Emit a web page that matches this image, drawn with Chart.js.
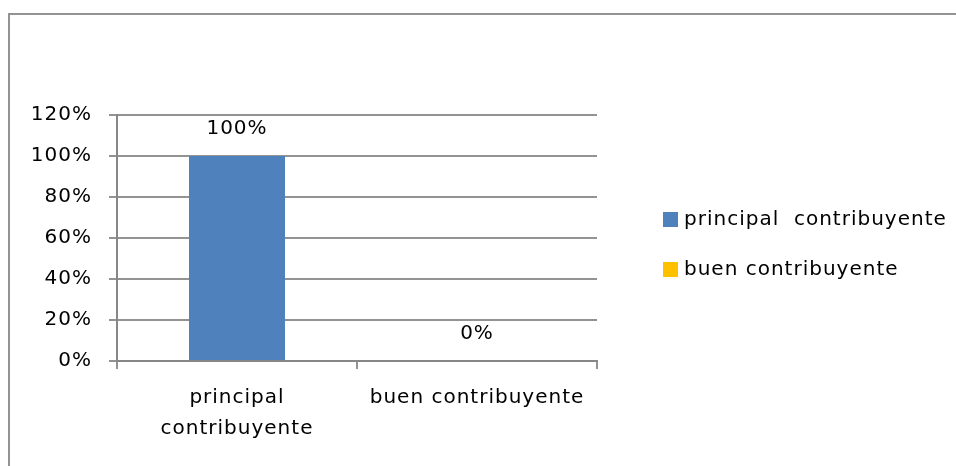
<!DOCTYPE html>
<html>
<head>
<meta charset="utf-8">
<script src="https://cdn.jsdelivr.net/npm/chart.js@4"></script>
<style>
  html, body { margin: 0; padding: 0; background: #fff; }
  #wrap { width: 956px; height: 466px; position: relative; }
</style>
</head>
<body>
<div id="wrap"><canvas id="grafico"></canvas></div>
<script>
// --- Données ---
const categorias = [['principal', 'contribuyente'], 'buen contribuyente'];
const leyenda = ['principal  contribuyente', 'buen contribuyente'];
const valores = [100, 0];
const colores = ['#4F81BD', '#FFC000'];
const ticksY = [0, 20, 40, 60, 80, 100, 120];

const fuente = { family: 'DejaVu Sans', size: 20, lineHeight: 1.55 };
const gris = '#939393';

// Cadre du graphique (style Excel) + espacement des lettres (texte plus large)
const marco = {
    id: 'marco',
    beforeDraw(chart) {
        const ctx = chart.ctx;
        ctx.save();
        ctx.fillStyle = '#fff';
        ctx.fillRect(0, 0, chart.width, chart.height);
        ctx.strokeStyle = '#939393';
        ctx.lineWidth = 2;
        ctx.strokeRect(9, 14, 2000, 2000);
        ctx.restore();
        ctx.letterSpacing = '1px';
    }
};

// Etiquettes de valeurs au-dessus des barres
const etiquetas = {
    id: 'etiquetas',
    afterDatasetsDraw(chart) {
        const ctx = chart.ctx;
        const meta = chart.getDatasetMeta(0);
        ctx.save();
        ctx.font = `${fuente.size}px ${fuente.family}`;
        ctx.fillStyle = '#000';
        ctx.textAlign = 'center';
        ctx.textBaseline = 'middle';
        meta.data.forEach((bar, i) => {
            ctx.fillText(valores[i] + '%', bar.x, bar.y - 27);
        });
        ctx.restore();
    }
};

// Légende à droite
const leyendaDerecha = {
    id: 'leyendaDerecha',
    afterDraw(chart) {
        const ctx = chart.ctx;
        ctx.save();
        ctx.font = `${fuente.size}px ${fuente.family}`;
        ctx.textBaseline = 'middle';
        leyenda.forEach((txt, i) => {
            const y = 212 + i * 50;
            ctx.fillStyle = colores[i];
            ctx.fillRect(663, y, 15, 15);
            ctx.fillStyle = '#000';
            ctx.fillText(txt, 684, y + 8);
        });
        ctx.restore();
    }
};

new Chart(document.getElementById('grafico'), {
    type: 'bar',
    data: {
        labels: categorias,
        datasets: [{
            label: 'contribuyente',
            data: valores,
            backgroundColor: colores,
            borderWidth: 0,
            categoryPercentage: 1,
            barPercentage: 0.4
        }]
    },
    options: {
        responsive: true,
        maintainAspectRatio: false,
        animation: false,
        layout: { padding: { top: 115, right: 359, left: 0, bottom: 0 } },
        plugins: {
            legend: { display: false },
            tooltip: { enabled: false }
        },
        scales: {
            x: {
                afterFit: s => { s.height = 105; },
                grid: { drawOnChartArea: false, drawTicks: true, tickLength: 8, color: gris, lineWidth: 2 },
                border: { color: '#878787', width: 2 },
                ticks: { font: fuente, color: '#000', padding: 13, maxRotation: 0 }
            },
            y: {
                min: 0,
                max: 120,
                afterFit: s => { s.width = 117; },
                afterBuildTicks: s => { s.ticks = ticksY.map(v => ({ value: v })); },
                grid: { color: gris, lineWidth: 2, tickLength: 8 },
                border: { color: '#878787', width: 2 },
                ticks: { font: { family: fuente.family, size: fuente.size }, color: '#000', padding: 17, callback: v => v + '%' }
            }
        }
    },
    plugins: [marco, etiquetas, leyendaDerecha]
});
</script>
</body>
</html>
